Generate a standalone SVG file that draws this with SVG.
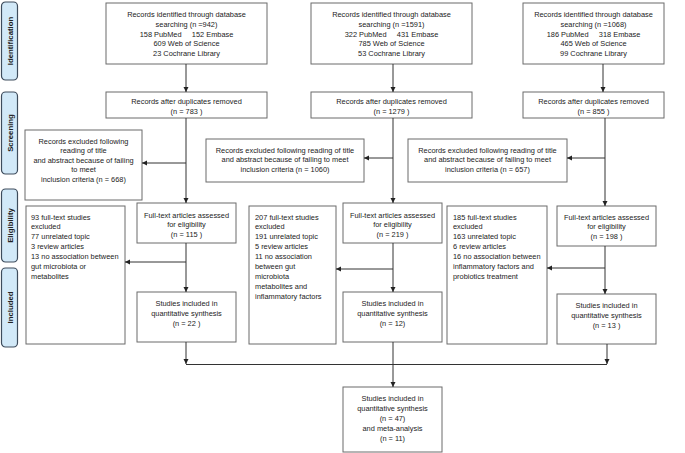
<svg xmlns="http://www.w3.org/2000/svg" width="685" height="453" viewBox="0 0 685 453">
<defs>
<marker id="ah" markerUnits="userSpaceOnUse" markerWidth="6" markerHeight="6" refX="5" refY="3" orient="auto">
<path d="M0,0.5 L5,3 L0,5.5 Z" fill="#222"/>
</marker>
<style>
.box{fill:#fff;stroke:#6b6b6b;stroke-width:1}
.side{fill:#d2e9f8;stroke:#3e4c5c;stroke-width:1.2}
.sl{font-family:"Liberation Sans",Arial,sans-serif;font-size:7.8px;font-weight:bold;fill:#222;text-anchor:middle}
text{font-family:"Liberation Sans",Arial,sans-serif;font-size:7.4px;fill:#222}
.c{text-anchor:middle}
.ln{fill:none;stroke:#333;stroke-width:1}
.ar{fill:none;stroke:#333;stroke-width:1;marker-end:url(#ah)}
</style>
</defs>
<rect width="685" height="453" fill="#fff"/>

<g id="side-identification"><rect class="side" x="1.5" y="2" width="16" height="78" rx="4"/><text class="sl" transform="translate(12.5,41) rotate(-90)">Identification</text></g>
<g id="side-screening"><rect class="side" x="1.5" y="92" width="16" height="82" rx="4"/><text class="sl" transform="translate(12.5,133) rotate(-90)">Screening</text></g>
<g id="side-eligibility"><rect class="side" x="1.5" y="189" width="16" height="73" rx="4"/><text class="sl" transform="translate(12.5,225.5) rotate(-90)">Eligibility</text></g>
<g id="side-included"><rect class="side" x="1.5" y="268" width="16" height="79" rx="4"/><text class="sl" transform="translate(12.5,307.5) rotate(-90)">Included</text></g>

<g id="id1"><rect class="box" x="106" y="3" width="161" height="61"/>
<text class="c" x="186.5" y="17">Records identified through database</text>
<text class="c" x="186.5" y="26.8">searching (n =942)</text>
<text class="c" x="186.5" y="36.6">158 PubMed&#160;&#160;&#160;&#160;&#160;152 Embase</text>
<text class="c" x="186.5" y="46.4">609 Web of Science</text>
<text class="c" x="186.5" y="56.2">23 Cochrane Library</text></g>
<g id="id2"><rect class="box" x="311" y="3" width="161" height="61"/>
<text class="c" x="391.5" y="17">Records identified through database</text>
<text class="c" x="391.5" y="26.8">searching (n =1591)</text>
<text class="c" x="391.5" y="36.6">322 PubMed&#160;&#160;&#160;&#160;&#160;431 Embase</text>
<text class="c" x="391.5" y="46.4">785 Web of Science</text>
<text class="c" x="391.5" y="56.2">53 Cochrane Library</text></g>
<g id="id3"><rect class="box" x="523" y="3" width="141" height="61"/>
<text class="c" x="593.5" y="17">Records identified through database</text>
<text class="c" x="593.5" y="26.8">searching (n =1068)</text>
<text class="c" x="593.5" y="36.6">186 PubMed&#160;&#160;&#160;&#160;&#160;318 Embase</text>
<text class="c" x="593.5" y="46.4">465 Web of Science</text>
<text class="c" x="593.5" y="56.2">99 Cochrane Library</text></g>

<g id="dup1"><rect class="box" x="106" y="92" width="161" height="26"/>
<text class="c" x="186.5" y="103.5">Records after duplicates removed</text>
<text class="c" x="186.5" y="113.5">(n = 783 )</text></g>
<g id="dup2"><rect class="box" x="311" y="92" width="161" height="26"/>
<text class="c" x="391.5" y="103.5">Records after duplicates removed</text>
<text class="c" x="391.5" y="113.5">(n = 1279 )</text></g>
<g id="dup3"><rect class="box" x="523" y="92" width="141" height="26"/>
<text class="c" x="593.5" y="103.5">Records after duplicates removed</text>
<text class="c" x="593.5" y="113.5">(n = 855 )</text></g>

<g id="exc1"><rect class="box" x="25" y="130" width="117" height="70"/>
<text class="c" x="83.5" y="143.5">Records excluded following</text>
<text class="c" x="83.5" y="153">reading of title</text>
<text class="c" x="83.5" y="162.5">and abstract because of failing</text>
<text class="c" x="83.5" y="172">to meet</text>
<text class="c" x="83.5" y="181.5">inclusion criteria (n = 668)</text></g>
<g id="exc2"><rect class="box" x="206" y="139" width="158" height="43"/>
<text class="c" x="285" y="152.5">Records excluded following reading of title</text>
<text class="c" x="285" y="162">and abstract because of failing to meet</text>
<text class="c" x="285" y="171.5">inclusion criteria (n = 1060)</text></g>
<g id="exc3"><rect class="box" x="408" y="139" width="159" height="43"/>
<text class="c" x="487.5" y="152.5">Records excluded following reading of title</text>
<text class="c" x="487.5" y="162">and abstract because of failing to meet</text>
<text class="c" x="487.5" y="171.5">inclusion criteria (n = 657)</text></g>

<g id="ft1"><rect class="box" x="137" y="203" width="99" height="40"/>
<text class="c" x="186.5" y="217.5">Full-text articles assessed</text>
<text class="c" x="186.5" y="227">for eligibility</text>
<text class="c" x="186.5" y="236.5">(n = 115 )</text></g>
<g id="ft2"><rect class="box" x="343" y="203" width="99" height="40"/>
<text class="c" x="392.5" y="217.5">Full-text articles assessed</text>
<text class="c" x="392.5" y="227">for eligibility</text>
<text class="c" x="392.5" y="236.5">(n = 219 )</text></g>
<g id="ft3"><rect class="box" x="557" y="206" width="99" height="40"/>
<text class="c" x="606.5" y="219.5">Full-text articles assessed</text>
<text class="c" x="606.5" y="229">for eligibility</text>
<text class="c" x="606.5" y="238.5">(n = 198 )</text></g>

<g id="fx1"><rect class="box" x="26" y="206" width="99" height="138"/>
<text x="31" y="219.5">93 full-text studies</text>
<text x="31" y="229.4">excluded</text>
<text x="31" y="239.3">77 unrelated topic</text>
<text x="31" y="249.2">3 review articles</text>
<text x="31" y="259.1">13 no association between</text>
<text x="31" y="269">gut microbiota or</text>
<text x="31" y="278.9">metabolites</text></g>
<g id="fx2"><rect class="box" x="249" y="206" width="87" height="138"/>
<text x="255" y="219.5">207 full-text studies</text>
<text x="255" y="229.4">excluded</text>
<text x="255" y="239.3">191 unrelated topic</text>
<text x="255" y="249.2">5 review articles</text>
<text x="255" y="259.1">11 no association</text>
<text x="255" y="269">between gut</text>
<text x="255" y="278.9">microbiota</text>
<text x="255" y="288.8">metabolites and</text>
<text x="255" y="298.7">inflammatory factors</text></g>
<g id="fx3"><rect class="box" x="447" y="206" width="100" height="138"/>
<text x="453" y="219.5">185 full-text studies</text>
<text x="453" y="229.4">excluded</text>
<text x="453" y="239.3">163 unrelated topic</text>
<text x="453" y="249.2">6 review articles</text>
<text x="453" y="259.1">16 no association between</text>
<text x="453" y="269">inflammatory factors and</text>
<text x="453" y="278.9">probiotics treatment</text></g>

<g id="inc1"><rect class="box" x="137" y="292" width="99" height="50"/>
<text class="c" x="186.5" y="305.5">Studies included in</text>
<text class="c" x="186.5" y="315.5">quantitative synthesis</text>
<text class="c" x="186.5" y="325.5">(n = 22 )</text></g>
<g id="inc2"><rect class="box" x="343" y="292" width="99" height="50"/>
<text class="c" x="392.5" y="305.5">Studies included in</text>
<text class="c" x="392.5" y="315.5">quantitative synthesis</text>
<text class="c" x="392.5" y="325.5">(n = 12)</text></g>
<g id="inc3"><rect class="box" x="557" y="294" width="99" height="50"/>
<text class="c" x="606.5" y="307.5">Studies included in</text>
<text class="c" x="606.5" y="317.5">quantitative synthesis</text>
<text class="c" x="606.5" y="327.5">(n = 13 )</text></g>

<g id="final"><rect class="box" x="343" y="387" width="99" height="65"/>
<text class="c" x="392.5" y="400.5">Studies included in</text>
<text class="c" x="392.5" y="410.5">quantitative synthesis</text>
<text class="c" x="392.5" y="420.5">(n = 47)</text>
<text class="c" x="392.5" y="430.5">and meta-analysis</text>
<text class="c" x="392.5" y="440.5">(n = 11)</text></g>

<g id="connectors">
<line class="ar" x1="186" y1="64" x2="186" y2="92"/>
<line class="ar" x1="393" y1="64" x2="393" y2="92"/>
<line class="ar" x1="603" y1="64" x2="603" y2="92"/>
<line class="ar" x1="186" y1="118" x2="186" y2="203"/>
<line class="ar" x1="186" y1="163" x2="142" y2="163"/>
<line class="ar" x1="393" y1="118" x2="393" y2="203"/>
<line class="ar" x1="393" y1="158" x2="364" y2="158"/>
<line class="ar" x1="605" y1="118" x2="605" y2="206"/>
<line class="ar" x1="605" y1="158" x2="567" y2="158"/>
<line class="ar" x1="186" y1="243" x2="186" y2="292"/>
<line class="ar" x1="186" y1="262" x2="125" y2="262"/>
<line class="ar" x1="393" y1="243" x2="393" y2="292"/>
<line class="ar" x1="393" y1="269" x2="336" y2="269"/>
<line class="ar" x1="605" y1="246" x2="605" y2="294"/>
<line class="ar" x1="605" y1="268" x2="547" y2="268"/>
<line class="ar" x1="186" y1="342" x2="186" y2="364"/>
<line class="ar" x1="607" y1="344" x2="607" y2="364"/>
<line class="ln" x1="186" y1="364.5" x2="607" y2="364.5"/>
<line class="ar" x1="393" y1="342" x2="393" y2="387"/>
</g>
</svg>
